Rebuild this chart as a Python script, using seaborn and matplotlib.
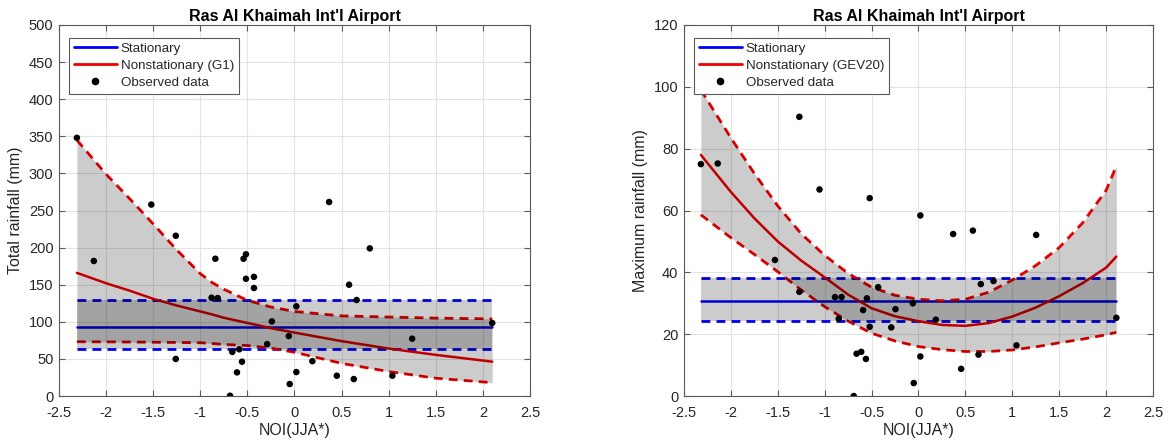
import numpy as np
import pandas as pd
import matplotlib
matplotlib.use("Agg")
import matplotlib.pyplot as plt
import seaborn as sns
from matplotlib.lines import Line2D

# ---------------- data ----------------
# Left panel: total rainfall vs NOI(JJA*)
noi_total = [-2.31, -2.13, -1.52, -1.26, -1.26, -0.88, -0.84, -0.815, -0.684, -0.66,
             -0.61, -0.586, -0.557, -0.54, -0.515, -0.515, -0.43, -0.43, -0.29, -0.24,
             -0.06, -0.05, 0.02, 0.02, 0.19, 0.368, 0.45, 0.58, 0.63, 0.66,
             0.80, 1.04, 1.25, 2.10]
total_rain = [348, 182, 258, 216, 50, 132.5, 185, 132, 0.4, 59.5,
              31.9, 63, 46.3, 185, 191, 158, 160.6, 145.6, 70, 100.6,
              80.8, 16.2, 120.9, 32.3, 47, 261.5, 27.4, 150, 22.9, 129.4,
              199, 27.4, 77.3, 98.4]
stat_total = {"x": [-2.31, 2.10], "mid": 93.4, "low": 63.7, "up": 129.0}
ns_total_x = [-2.31, -2.0, -1.75, -1.5, -1.25, -1.0, -0.875, -0.75, -0.5, -0.25,
              0.0, 0.5, 1.0, 1.5, 2.10]
ns_total_mid = [166, 152, 142, 131, 122, 114, 110, 105.5, 98.5, 91.5,
                85.5, 74, 64, 55.5, 46.3]
ns_total_up = [345, 299, 266, 232, 197, 165, 153, 144, 129, 120,
               114, 108, 106.5, 105, 104]
ns_total_low = [73.2, 73, 72.8, 72.5, 72.2, 71.8, 70.8, 69.5, 68, 64.5,
                59, 44, 33, 24, 18]

# Right panel: maximum rainfall vs NOI(JJA*)
noi_max = [-2.32, -2.14, -1.53, -1.27, -1.27, -1.055, -0.89, -0.85, -0.82, -0.69,
           -0.66, -0.61, -0.59, -0.56, -0.55, -0.52, -0.52, -0.43, -0.29, -0.245,
           -0.06, -0.05, 0.02, 0.02, 0.185, 0.37, 0.455, 0.58, 0.64, 0.665,
           0.80, 1.045, 1.255, 2.11]
max_rain = [75, 75.2, 44, 90.3, 33.7, 66.8, 32, 25, 32, 0,
            13.7, 14.3, 27.8, 12, 31.6, 64, 22.4, 35.2, 22.2, 28.1,
            30, 4.2, 58.4, 12.8, 24.7, 52.4, 8.8, 53.5, 13.4, 36.2,
            37.2, 16.4, 52.1, 25.3]
stat_max = {"x": [-2.32, 2.11], "mid": 30.8, "low": 24.2, "up": 38.3}
ns_max_x = [-2.32, -2.0, -1.75, -1.5, -1.25, -1.0, -0.75, -0.5, -0.25, 0.0,
            0.25, 0.5, 0.75, 1.0, 1.25, 1.5, 1.75, 2.0, 2.11]
ns_max_mid = [78, 66, 57.5, 50, 43.8, 38.4, 32.8, 28.4, 25.8, 24.2,
              23.0, 22.7, 23.6, 25.7, 28.6, 32.3, 36.5, 41.5, 45.1]
ns_max_up = [99, 83.5, 72, 61.5, 52.5, 45.5, 39.7, 35.2, 32.6, 31.3,
             30.8, 31.3, 33.6, 37.5, 42.2, 48, 56, 66.5, 74.4]
ns_max_low = [58.6, 51.2, 45.8, 40.2, 34.3, 28.9, 24.2, 20.3, 17.8, 16,
              15.0, 14.4, 14.4, 14.9, 15.9, 17.2, 18.4, 19.8, 20.6]

panels = [
    dict(noi=noi_total, obs=total_rain, stat=stat_total, nsx=ns_total_x,
         nsmid=ns_total_mid, nsup=ns_total_up, nslow=ns_total_low,
         ylabel="Total rainfall (mm)", ylim=(0, 500), ystep=50,
         ns_label="Nonstationary (G1)"),
    dict(noi=noi_max, obs=max_rain, stat=stat_max, nsx=ns_max_x,
         nsmid=ns_max_mid, nsup=ns_max_up, nslow=ns_max_low,
         ylabel="Maximum rainfall (mm)", ylim=(0, 120), ystep=20,
         ns_label="Nonstationary (GEV20)"),
]
title = "Ras Al Khaimah Int'l Airport"
xlabel = "NOI(JJA*)"

# ---------------- style ----------------
sns.set_style("white")
plt.rcParams["font.family"] = ["Liberation Sans", "DejaVu Sans"]

BLUE = "#0000ff"
RED = "#f00000"
DARK = "#262626"
DASH = (0, (3.2, 2.2))

fig = plt.figure(figsize=(11.68, 4.46), dpi=100)
axes = [fig.add_axes([0.0505, 0.112, 0.4032, 0.832]),
        fig.add_axes([0.5856, 0.112, 0.4015, 0.832])]

for ax, p in zip(axes, panels):
    st = p["stat"]
    sx = np.array(st["x"])
    # stationary lines
    sns.lineplot(x=sx, y=[st["mid"]] * 2, ax=ax, color=BLUE, lw=1.8, zorder=2)
    sns.lineplot(x=sx, y=[st["up"]] * 2, ax=ax, color=BLUE, lw=2.0, zorder=2,
                 linestyle=DASH)
    sns.lineplot(x=sx, y=[st["low"]] * 2, ax=ax, color=BLUE, lw=2.0, zorder=2,
                 linestyle=DASH)
    # nonstationary lines
    sns.lineplot(x=p["nsx"], y=p["nsmid"], ax=ax, color=RED, lw=1.8, zorder=2,
                 sort=False, estimator=None)
    sns.lineplot(x=p["nsx"], y=p["nsup"], ax=ax, color=RED, lw=2.0, zorder=2,
                 sort=False, estimator=None, linestyle=DASH)
    sns.lineplot(x=p["nsx"], y=p["nslow"], ax=ax, color=RED, lw=2.0, zorder=2,
                 sort=False, estimator=None, linestyle=DASH)
    # shaded bands (drawn above lines, semi-transparent)
    ax.fill_between(sx, [st["low"]] * 2, [st["up"]] * 2, color="black",
                    alpha=0.2, lw=0, zorder=3)
    ax.fill_between(p["nsx"], p["nslow"], p["nsup"], color="black",
                    alpha=0.2, lw=0, zorder=3)
    # observed data
    df = pd.DataFrame({"noi": p["noi"], "obs": p["obs"]})
    sns.scatterplot(data=df, x="noi", y="obs", ax=ax, color="black", s=22,
                    edgecolor="none", zorder=5)

    ax.set_xlim(-2.5, 2.5)
    ax.set_ylim(*p["ylim"])
    xt = np.arange(-2.5, 2.51, 0.5)
    ax.set_xticks(xt)
    ax.set_xticklabels([f"{v:g}" for v in xt])
    ax.set_yticks(np.arange(p["ylim"][0], p["ylim"][1] + 0.1, p["ystep"]))
    ax.grid(True, color="#e3e3e3", lw=0.8, zorder=0)
    ax.set_axisbelow(True)
    for s in ax.spines.values():
        s.set_color("#5a5a5a")
        s.set_linewidth(0.8)
        s.set_visible(True)
    ax.tick_params(direction="in", length=4, width=0.8, top=True, right=True,
                   bottom=True, left=True, colors="#5a5a5a", labelcolor=DARK,
                   labelsize=10.5)
    ax.tick_params(axis="x", pad=7)
    ax.tick_params(axis="y", pad=4)
    ax.set_xlabel(xlabel, fontsize=11.5, color=DARK, labelpad=2)
    ax.set_ylabel(p["ylabel"], fontsize=11.5, color=DARK, labelpad=4)
    ax.set_title(title, fontsize=11.5, fontweight="bold", color="black", pad=3)

    handles = [Line2D([], [], color=BLUE, lw=2),
               Line2D([], [], color=RED, lw=2),
               Line2D([], [], color="black", marker="o", ls="none", markersize=4.5)]
    leg = ax.legend(handles, ["Stationary", p["ns_label"], "Observed data"],
                    loc="upper left", bbox_to_anchor=(0.022, 0.965), borderaxespad=0,
                    fontsize=9.6, handlelength=3.2, handletextpad=0.3,
                    labelspacing=0.35, borderpad=0.35, fancybox=False, framealpha=1,
                    edgecolor="#5a5a5a")
    leg.get_frame().set_linewidth(0.8)
    leg.set_zorder(10)

fig.savefig("out.png", dpi=100, facecolor="white")
